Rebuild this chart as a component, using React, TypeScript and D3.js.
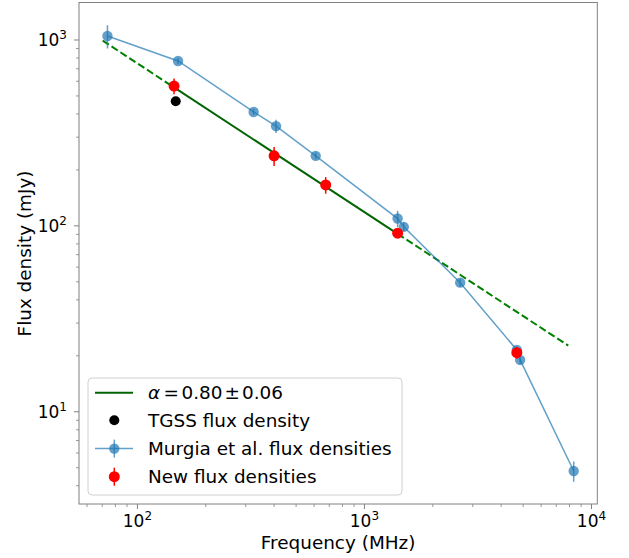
import React from "react";
import * as d3 from "d3";

// ---- data ----
const murgiaFreq = [73.8, 151, 325, 408, 610, 1400, 1490, 2640, 4690, 4850, 8350];
const murgiaFlux = [1050, 771, 410, 344, 238, 109.5, 98.8, 49.5, 21.5, 19.0, 4.8];
const murgiaErr = [150, 30, 15, 28, 10, 11, 5, 2.5, 1.0, 0.9, 0.6];

const newFreq = [145, 400, 675, 1400, 4690];
const newFlux = [565, 238, 166, 91.4, 20.8];
const newErr = [55, 28, 17, 5, 1.5];

const tgssFreq = [147.5];
const tgssFlux = [468];

const fitAlpha = 0.8;
const fitRefFreq = 1400;
const fitRefFlux = 90.6;
const fitSolidRange = [145, 1400];
const fitDashLow = [70.3, 145];
const fitDashHigh = [1400, 7900];

const xMajorTicks = [100, 1000, 10000];
const xMajorExp = ["2", "3", "4"];
const yMajorTicks = [10, 100, 1000];
const yMajorExp = ["1", "2", "3"];

const legendLabels = ["TGSS flux density", "Murgia et al. flux densities", "New flux densities"];

const W = 629;
const H = 558;
const L = 79, R = 597.3, T = 2.5, B = 504;

const x = d3.scaleLog().domain([55.3, 10607]).range([L, R]);
const y = d3.scaleLog().domain([3.19, 1591]).range([B, T]);

const fitVal = (f: number) => fitRefFlux * Math.pow(f / fitRefFreq, -fitAlpha);
const fitLine = d3.line<number>().x((f) => x(f)).y((f) => y(fitVal(f)));

const blue = "#1f77b4";
const FONT = "DejaVu Sans, sans-serif";

function minorTicks(lo: number, hi: number) {
  const out: number[] = [];
  for (let e = -1; e <= 5; e++) {
    for (let m = 2; m <= 9; m++) {
      const v = m * Math.pow(10, e);
      if (v >= lo && v <= hi) out.push(v);
    }
  }
  return out;
}

export default function App() {
  const xMinor = minorTicks(55.3, 10607);
  const yMinor = minorTicks(3.19, 1591);
  const blueLine = d3.line<number>().x((_, i) => x(murgiaFreq[i])).y((v) => y(v));
  const axisColor = "#808080";

  const legX = 88, legY = 378, legW = 314, legH = 117;
  const rows = [392.7, 420.3, 448.6, 476.7];
  const textX = 148;

  return (
    <svg width={W} height={H} style={{ position: "absolute", left: 0, top: 0 }} fontFamily={FONT}>
      <rect x={0} y={0} width={W} height={H} fill="white" />
      {/* fit */}
      <path d={fitLine([fitDashLow[0], fitDashLow[1]]) || ""} fill="none" stroke="#008000" strokeWidth={2} strokeDasharray="7.4 3.2" />
      <path d={fitLine([fitDashHigh[0], fitDashHigh[1]]) || ""} fill="none" stroke="#008000" strokeWidth={2} strokeDasharray="7.4 3.2" />
      <path d={fitLine([fitSolidRange[0], fitSolidRange[1]]) || ""} fill="none" stroke="#006400" strokeWidth={2} />

      {/* Murgia */}
      <path d={blueLine(murgiaFlux) || ""} fill="none" stroke={blue} strokeOpacity={0.7} strokeWidth={1.5} />
      {murgiaFreq.map((f, i) => (
        <line key={"be" + i} x1={x(f)} x2={x(f)} y1={y(murgiaFlux[i] - murgiaErr[i])} y2={y(murgiaFlux[i] + murgiaErr[i])} stroke={blue} strokeOpacity={0.7} strokeWidth={1.5} />
      ))}
      {murgiaFreq.map((f, i) => (
        <circle key={"bm" + i} cx={x(f)} cy={y(murgiaFlux[i])} r={5.2} fill={blue} fillOpacity={0.7} />
      ))}

      {/* TGSS */}
      {tgssFreq.map((f, i) => (
        <circle key={"t" + i} cx={x(f)} cy={y(tgssFlux[i])} r={5} fill="black" />
      ))}

      {/* New */}
      {newFreq.map((f, i) => (
        <line key={"re" + i} x1={x(f)} x2={x(f)} y1={y(newFlux[i] - newErr[i])} y2={y(newFlux[i] + newErr[i])} stroke="red" strokeWidth={1.5} />
      ))}
      {newFreq.map((f, i) => (
        <circle key={"rm" + i} cx={x(f)} cy={y(newFlux[i])} r={5.5} fill="red" />
      ))}

      {/* axes frame */}
      <rect x={L} y={T} width={R - L} height={B - T} fill="none" stroke={axisColor} strokeWidth={1} />

      {/* x ticks */}
      {xMinor.map((v) => (
        <line key={"xm" + v} x1={x(v)} x2={x(v)} y1={B} y2={B + 3} stroke={axisColor} strokeWidth={0.8} />
      ))}
      {xMajorTicks.map((v, i) => (
        <g key={"xM" + v}>
          <line x1={x(v)} x2={x(v)} y1={B} y2={B + 5} stroke={axisColor} strokeWidth={1} />
          <text x={x(v)} y={527} textAnchor="middle" fontSize={17} fill="#000">
            10<tspan dy={-7} fontSize={12}>{xMajorExp[i]}</tspan>
          </text>
        </g>
      ))}

      {/* y ticks */}
      {yMinor.map((v) => (
        <line key={"ym" + v} x1={L - 3} x2={L} y1={y(v)} y2={y(v)} stroke={axisColor} strokeWidth={0.8} />
      ))}
      {yMajorTicks.map((v, i) => (
        <g key={"yM" + v}>
          <line x1={L - 5} x2={L} y1={y(v)} y2={y(v)} stroke={axisColor} strokeWidth={1} />
          <text x={67} y={y(v) + 6} textAnchor="end" fontSize={17} fill="#000">
            10<tspan dy={-7} fontSize={12}>{yMajorExp[i]}</tspan>
          </text>
        </g>
      ))}

      {/* axis labels */}
      <text x={(L + R) / 2} y={549} textAnchor="middle" fontSize={18.4} fill="#000">Frequency (MHz)</text>
      <text transform={`translate(31,253.5) rotate(-90)`} textAnchor="middle" fontSize={18.4} fill="#000">Flux density (mJy)</text>

      {/* legend */}
      <rect x={legX} y={legY} width={legW} height={legH} rx={4} fill="white" fillOpacity={0.8} stroke="#d0d0d0" strokeWidth={1} />
      <line x1={95} x2={133} y1={rows[0]} y2={rows[0]} stroke="#006400" strokeWidth={2} />
      <text y={rows[0] + 6.5} fontSize={18.4} fill="#000">
        <tspan x={textX} fontStyle="italic">α</tspan>
        <tspan x={163.5}>=</tspan>
        <tspan x={181.5}>0.80</tspan>
        <tspan x={224.5}>±</tspan>
        <tspan x={242}>0.06</tspan>
      </text>
      <circle cx={114.3} cy={rows[1]} r={5} fill="black" />
      <text x={textX} y={rows[1] + 6.5} fontSize={18.4} fill="#000">{legendLabels[0]}</text>
      <line x1={95} x2={133} y1={rows[2]} y2={rows[2]} stroke={blue} strokeOpacity={0.7} strokeWidth={1.5} />
      <line x1={114.3} x2={114.3} y1={rows[2] - 9} y2={rows[2] + 9} stroke={blue} strokeOpacity={0.7} strokeWidth={1.5} />
      <circle cx={114.3} cy={rows[2]} r={5.2} fill={blue} fillOpacity={0.7} />
      <text x={textX} y={rows[2] + 6.5} fontSize={18.4} fill="#000">{legendLabels[1]}</text>
      <line x1={114.3} x2={114.3} y1={rows[3] - 9} y2={rows[3] + 9} stroke="red" strokeWidth={1.5} />
      <circle cx={114.3} cy={rows[3]} r={5.5} fill="red" />
      <text x={textX} y={rows[3] + 6.5} fontSize={18.4} fill="#000">{legendLabels[2]}</text>
    </svg>
  );
}
